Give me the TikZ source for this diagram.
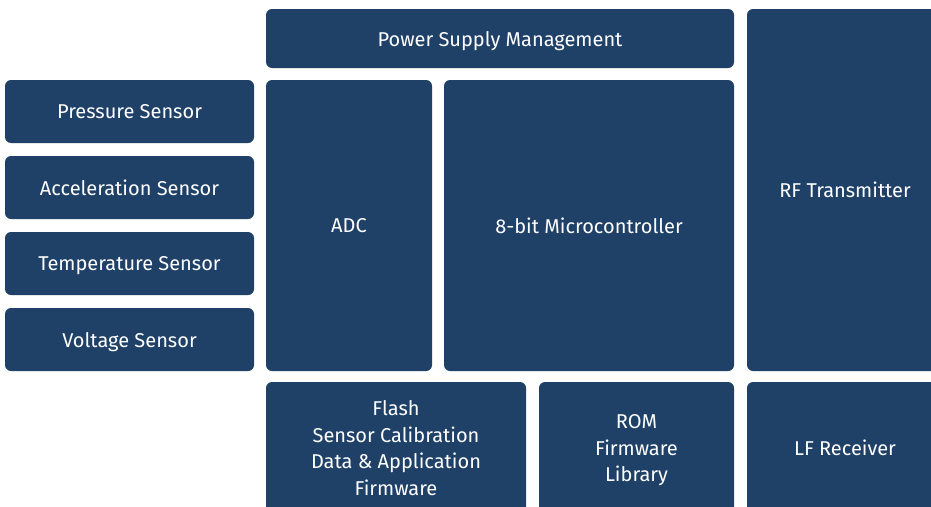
\documentclass[tikz,border=0pt]{standalone}
\usepackage{fontspec}
\setmainfont{Fira Sans}
\definecolor{blockblue}{HTML}{1F4168}

\begin{document}
\begin{tikzpicture}[
    x=1pt, y=-1pt,
    blk/.style={fill=blockblue, rounded corners=6pt, text=white, align=center, inner sep=0pt, text depth=0pt, font=\fontsize{20}{26.6}\selectfont},
    sensor/.style={blk, minimum width=249pt, minimum height=63pt},
]
\useasboundingbox (0,0) rectangle (931,506);

% Power
\node[blk, minimum width=468pt, minimum height=59pt] (power) at (500,38.5) {Power Supply Management};

% Sensors column
\node[sensor] (press) at (129.5,111.5) {Pressure Sensor};
\node[sensor] (accel) at (129.5,187.5) {Acceleration Sensor};
\node[sensor] (temp)  at (129.5,263.5) {Temperature Sensor};
\node[sensor] (volt)  at (129.5,339.5) {Voltage Sensor};

% Core
\node[blk, minimum width=166pt, minimum height=291pt] (adc)   at (349,225.5) {ADC};
\node[blk, minimum width=290pt, minimum height=291pt] (mcu)   at (589,225.5) {8-bit Microcontroller};
\node[blk, minimum width=196pt, minimum height=362pt] (rf)    at (845,190)   {RF Transmitter};

% Memory and receiver row
\node[blk, minimum width=260pt, minimum height=132pt] (flash) at (396,448)   {Flash\\Sensor Calibration\\Data \& Application\\Firmware};
\node[blk, minimum width=195pt, minimum height=132pt] (rom)   at (636.5,448) {ROM\\Firmware\\Library};
\node[blk, minimum width=196pt, minimum height=132pt] (lf)    at (845,448)   {LF Receiver};

\end{tikzpicture}
\end{document}
